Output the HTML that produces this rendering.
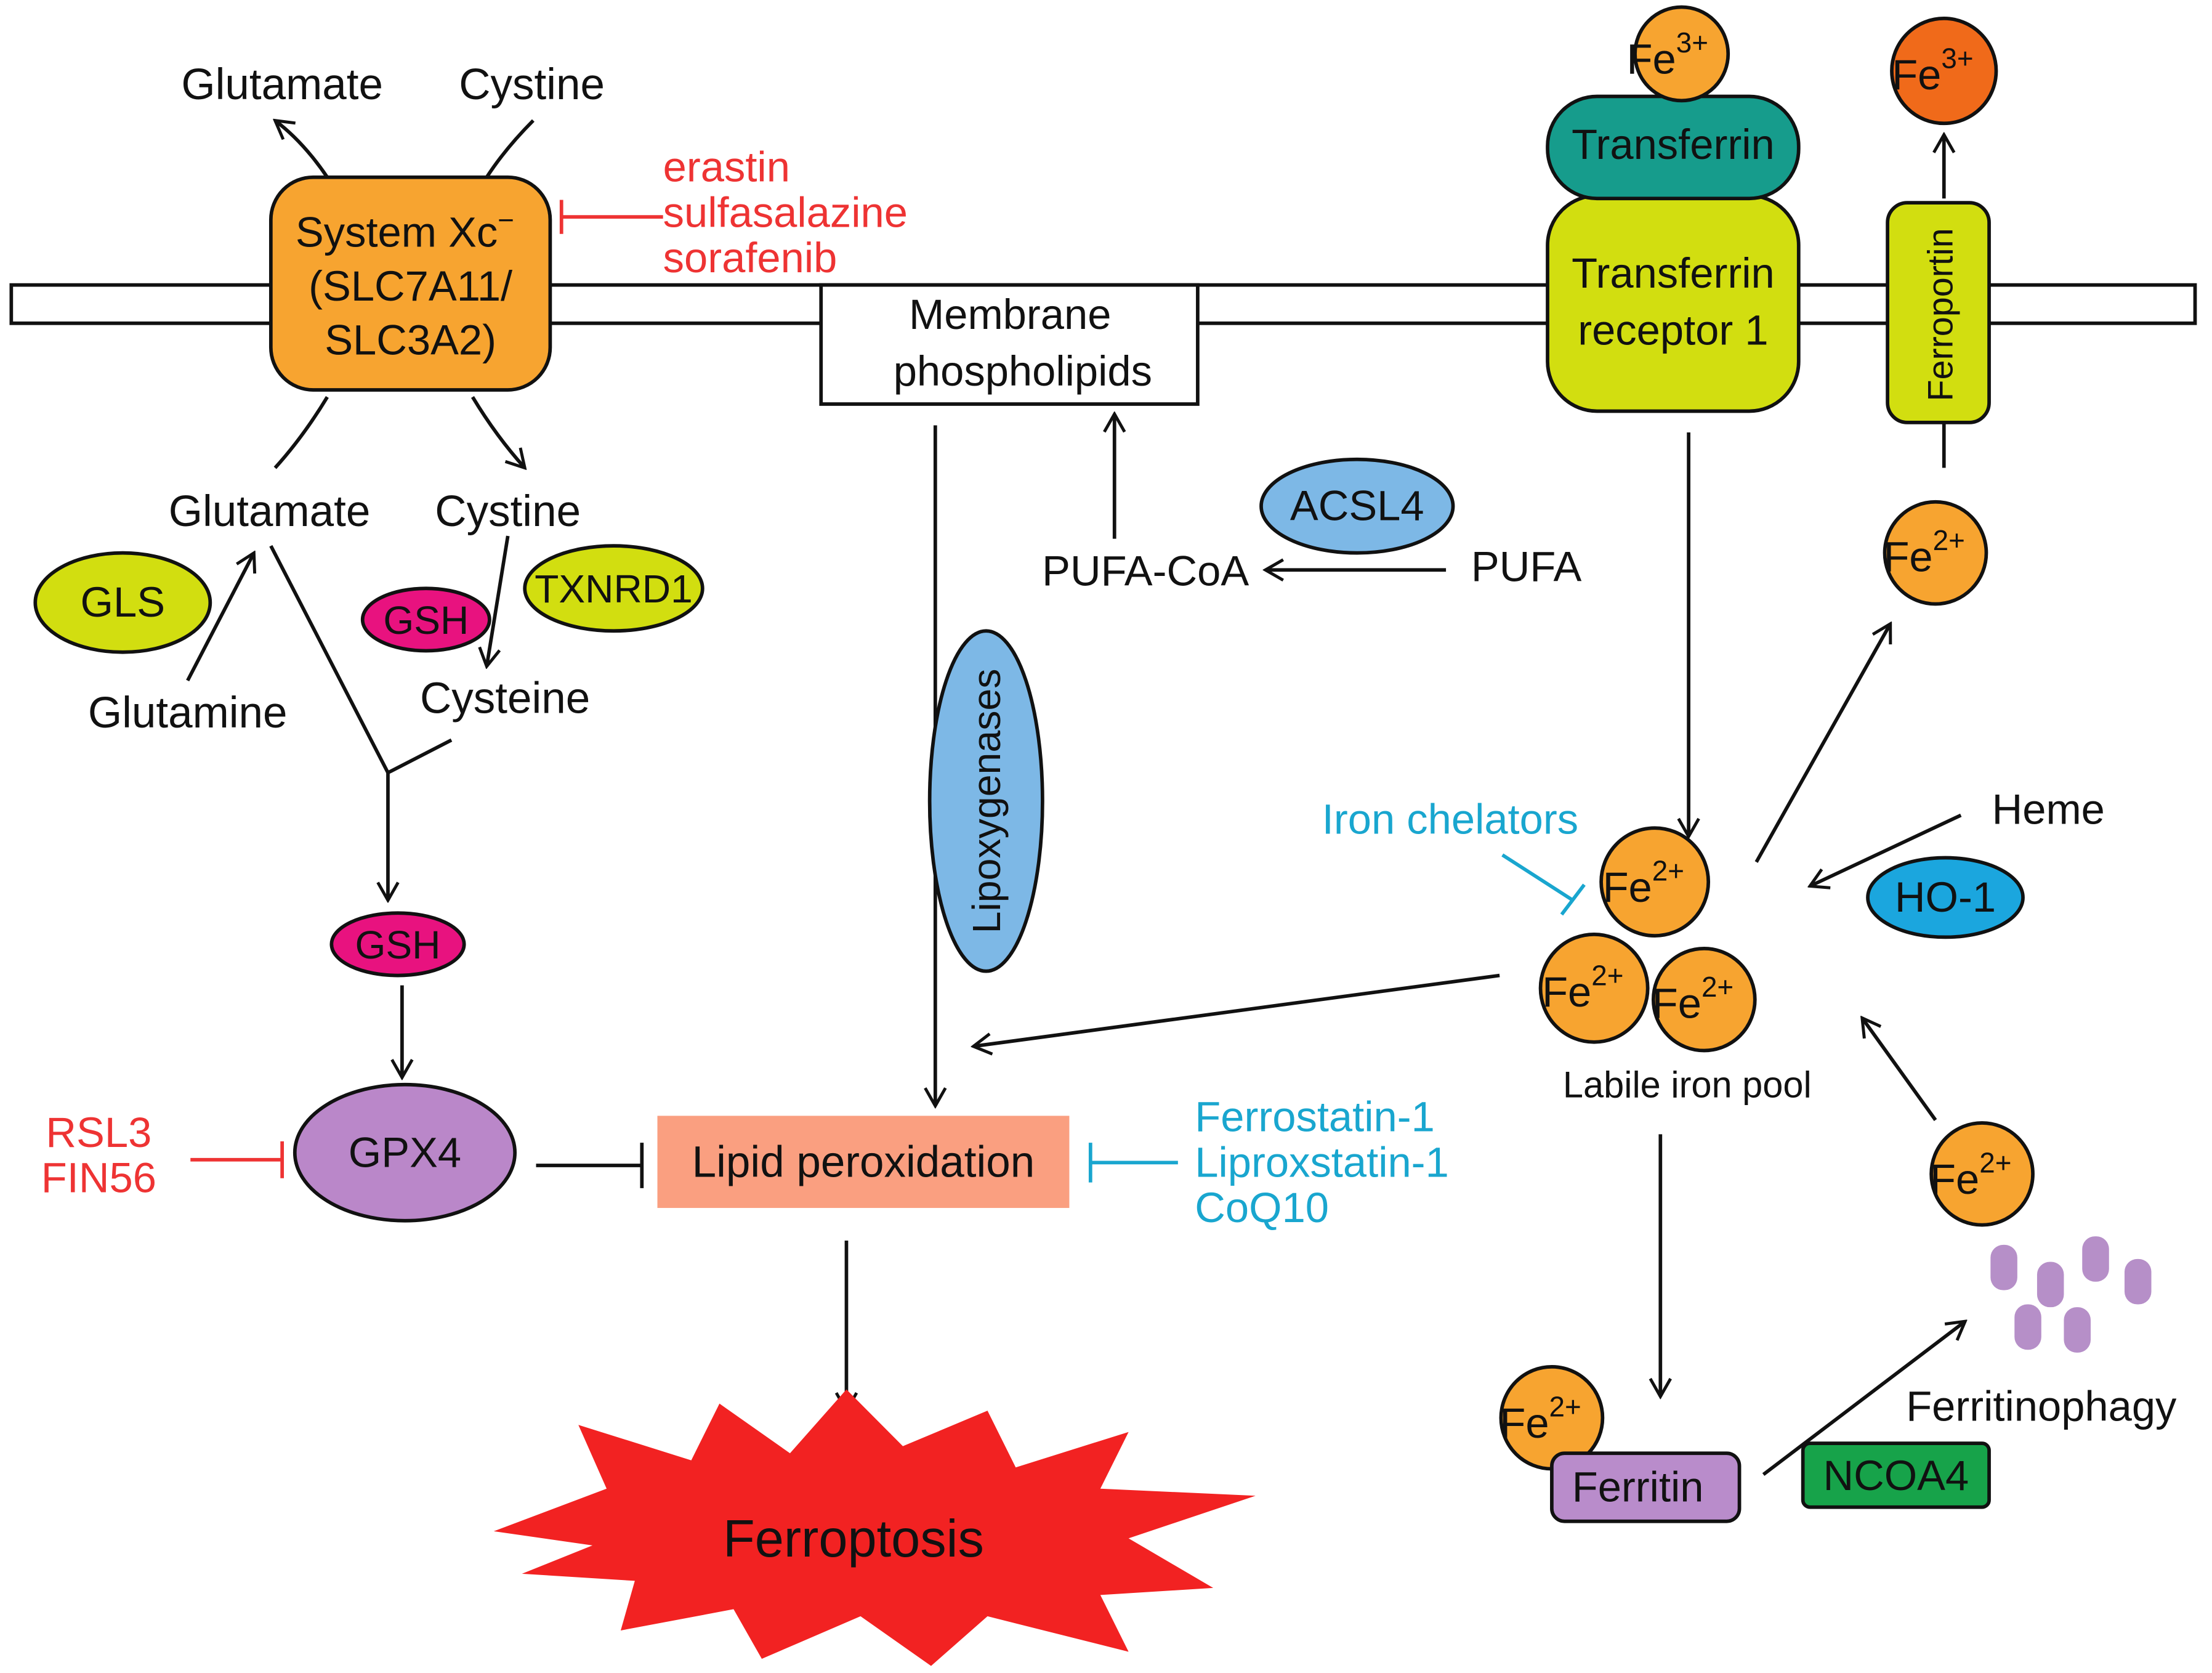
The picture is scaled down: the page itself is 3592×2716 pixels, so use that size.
<!DOCTYPE html>
<html><head><meta charset="utf-8"><style>
html,body{margin:0;padding:0;background:#fff;width:3592px;height:2716px;overflow:hidden}
svg{display:block}
text{font-family:"Liberation Sans",Arial,sans-serif}
</style></head><body>
<svg width="3592" height="2716" viewBox="0 0 1568 1180" preserveAspectRatio="none" xmlns="http://www.w3.org/2000/svg">
<defs>
<marker id="a" viewBox="0 0 20 20" refX="18" refY="10" markerWidth="18" markerHeight="18" markerUnits="userSpaceOnUse" orient="auto"><polyline points="4,2 18,10 4,18" fill="none" stroke="#111" stroke-width="2.4"/></marker>
</defs>
<g stroke="#111" stroke-width="2.5" fill="none">
<rect x="8" y="201" width="1548" height="27" fill="#fff"/>
</g>
<rect x="192" y="125" width="198" height="150" rx="30" fill="#F7A430" stroke="#111" stroke-width="2.5"/>
<g font-size="30" text-anchor="middle" fill="#111">
<text x="287" y="174">System Xc<tspan dy="-12" font-size="20">−</tspan></text>
<text x="291" y="212">(SLC7A11/</text>
<text x="291" y="250">SLC3A2)</text>
<text x="200" y="70" font-size="31">Glutamate</text>
<text x="377" y="70" font-size="31">Cystine</text>
<text x="191" y="371" font-size="31">Glutamate</text>
<text x="360" y="371" font-size="31">Cystine</text>
<text x="133" y="513" font-size="31">Glutamine</text>
<text x="358" y="503" font-size="31">Cysteine</text>
</g>
<g stroke="#111" stroke-width="2.5" fill="none">
<path d="M232,125 Q215,100 195,85" marker-end="url(#a)"/>
<path d="M378,85 Q358,105 345,125"/>
<path d="M232,280 Q215,308 195,330"/>
<path d="M335,280 Q352,308 372,330" marker-end="url(#a)"/>
<path d="M133,480 L180,390" marker-end="url(#a)"/>
<path d="M360,378 L345,470" marker-end="url(#a)"/>
<path d="M192,385 L275,545 L320,522"/>
<path d="M275,545 L275,635" marker-end="url(#a)"/>
<path d="M285,695 L285,760" marker-end="url(#a)"/>
<path d="M380,822 L455,822 M455,806 L455,838"/>
<path d="M600,875 L600,995" marker-end="url(#a)"/>
<path d="M663,300 L663,780" marker-end="url(#a)"/>
<path d="M790,380 L790,292" marker-end="url(#a)"/>
<path d="M1025,402 L897,402" marker-end="url(#a)"/>
<path d="M1378,298 L1378,330"/>
<path d="M1378,140 L1378,95" marker-end="url(#a)"/>
<path d="M1197,305 L1197,590" marker-end="url(#a)"/>
<path d="M1390,575 L1283,625" marker-end="url(#a)"/>
<path d="M1245,608 L1340,440" marker-end="url(#a)"/>
<path d="M1063,688 L690,738" marker-end="url(#a)"/>
<path d="M1372,790 L1320,718" marker-end="url(#a)"/>
<path d="M1177,800 L1177,985" marker-end="url(#a)"/>
<path d="M1250,1040 L1393,932" marker-end="url(#a)"/>
</g>
<g stroke="#EE3333" stroke-width="2.5" fill="none">
<path d="M470,153 L398,153 M398,141 L398,165"/>
<path d="M135,818 L200,818 M200,805 L200,831"/>
</g>
<g font-size="30" fill="#EE3333">
<text x="470" y="128">erastin</text>
<text x="470" y="160">sulfasalazine</text>
<text x="470" y="192">sorafenib</text>
<text x="70" y="809" text-anchor="middle">RSL3</text>
<text x="70" y="841" text-anchor="middle">FIN56</text>
</g>
<g stroke="#19A6CF" stroke-width="2.5" fill="none">
<path d="M835,820 L773,820 M773,806 L773,834"/>
<path d="M1065,603 L1115,635 M1107,645 L1123,624"/>
</g>
<g font-size="30" fill="#19A6CF">
<text x="847" y="798">Ferrostatin-1</text>
<text x="847" y="830">Liproxstatin-1</text>
<text x="847" y="862">CoQ10</text>
<text x="1028" y="588" text-anchor="middle">Iron chelators</text>
</g>
<g stroke="#111" stroke-width="2.5">
<ellipse cx="87" cy="425" rx="62" ry="35" fill="#D2DE10"/>
<ellipse cx="435" cy="415" rx="63" ry="30" fill="#D2DE10"/>
<ellipse cx="302" cy="437" rx="45" ry="22" fill="#E8127F"/>
<ellipse cx="282" cy="666" rx="47" ry="22" fill="#E8127F"/>
<ellipse cx="287" cy="813" rx="78" ry="48" fill="#BA87C9"/>
<ellipse cx="699" cy="565" rx="40" ry="120" fill="#7DB8E6"/>
<ellipse cx="962" cy="357" rx="68" ry="33" fill="#7DB8E6"/>
<ellipse cx="1379" cy="633" rx="55" ry="28" fill="#1BA6DE"/>
</g>
<g font-size="30" text-anchor="middle" fill="#111">
<text x="87" y="435">GLS</text>
<text x="435" y="425" font-size="28">TXNRD1</text>
<text x="302" y="447" font-size="28">GSH</text>
<text x="282" y="676" font-size="28">GSH</text>
<text x="287" y="823">GPX4</text>
<text x="962" y="367">ACSL4</text>
<text x="1379" y="643">HO-1</text>
<text transform="translate(709,565) rotate(-90)" font-size="28">Lipoxygenases</text>
<text x="812" y="413">PUFA-CoA</text>
<text x="1082" y="410">PUFA</text>
<text x="1452" y="581">Heme</text>
<text x="1196" y="774" font-size="26">Labile iron pool</text>
<text x="1447" y="1002">Ferritinophagy</text>
</g>
<rect x="466" y="787" width="292" height="65" fill="#FA9F80"/>
<text x="612" y="830" font-size="31" text-anchor="middle" fill="#111">Lipid peroxidation</text>
<polygon points="350,1080 430,1050 410,1005 490,1030 510,990 560,1025 600,980 640,1020 700,995 720,1035 800,1010 780,1050 890,1055 800,1085 860,1120 780,1125 800,1165 700,1140 660,1175 610,1140 540,1170 520,1135 440,1150 450,1115 370,1110 420,1090" fill="#F22222"/>
<text x="605" y="1098" font-size="37" text-anchor="middle" fill="#111">Ferroptosis</text>
<rect x="582" y="201" width="267" height="84" fill="#fff" stroke="#111" stroke-width="2.5"/>
<g font-size="30" text-anchor="middle" fill="#111">
<text x="716" y="232">Membrane</text>
<text x="725" y="272">phospholipids</text>
</g>
<rect x="1097" y="138" width="178" height="152" rx="35" fill="#D2DE10" stroke="#111" stroke-width="2.5"/>
<rect x="1097" y="68" width="178" height="72" rx="35" fill="#169C8C" stroke="#111" stroke-width="2.5"/>
<rect x="1338" y="143" width="72" height="155" rx="14" fill="#D2DE10" stroke="#111" stroke-width="2.5"/>
<g font-size="30" text-anchor="middle" fill="#111">
<text x="1186" y="112">Transferrin</text>
<text x="1186" y="203">Transferrin</text>
<text x="1186" y="243">receptor 1</text>
<text transform="translate(1384,222) rotate(-90)" font-size="25">Ferroportin</text>
</g>
<g stroke="#111" stroke-width="2.5">
<circle cx="1192" cy="38" r="33" fill="#F7A430"/>
<circle cx="1378" cy="50" r="37" fill="#F06A1A"/>
<circle cx="1372" cy="390" r="36" fill="#F7A430"/>
<circle cx="1173" cy="622" r="38" fill="#F7A430"/>
<circle cx="1130" cy="697" r="38" fill="#F7A430"/>
<circle cx="1208" cy="705" r="36" fill="#F7A430"/>
<circle cx="1405" cy="828" r="36" fill="#F7A430"/>
<circle cx="1100" cy="1000" r="36" fill="#F7A430"/>
</g>
<g font-size="30" fill="#111" text-anchor="middle">
<text x="1182" y="52">Fe<tspan dy="-15" font-size="20">3+</tspan></text>
<text x="1370" y="63">Fe<tspan dy="-15" font-size="20">3+</tspan></text>
<text x="1364" y="403">Fe<tspan dy="-15" font-size="20">2+</tspan></text>
<text x="1165" y="636">Fe<tspan dy="-15" font-size="20">2+</tspan></text>
<text x="1122" y="710">Fe<tspan dy="-15" font-size="20">2+</tspan></text>
<text x="1200" y="718">Fe<tspan dy="-15" font-size="20">2+</tspan></text>
<text x="1397" y="842">Fe<tspan dy="-15" font-size="20">2+</tspan></text>
<text x="1092" y="1014">Fe<tspan dy="-15" font-size="20">2+</tspan></text>
</g>
<rect x="1100" y="1025" width="133" height="48" rx="9" fill="#B98CCB" stroke="#111" stroke-width="2.5"/>
<text x="1161" y="1059" font-size="30" text-anchor="middle" fill="#111">Ferritin</text>
<rect x="1278" y="1018" width="132" height="45" rx="5" fill="#17A34A" stroke="#111" stroke-width="2.5"/>
<text x="1344" y="1051" font-size="30" text-anchor="middle" fill="#111">NCOA4</text>
<g fill="#B68FC8">
<rect x="1411" y="878" width="19" height="32" rx="9"/>
<rect x="1444" y="890" width="19" height="32" rx="9"/>
<rect x="1476" y="872" width="19" height="32" rx="9"/>
<rect x="1506" y="888" width="19" height="32" rx="9"/>
<rect x="1428" y="920" width="19" height="32" rx="9"/>
<rect x="1463" y="922" width="19" height="32" rx="9"/>
</g>
</svg>
</body></html>
